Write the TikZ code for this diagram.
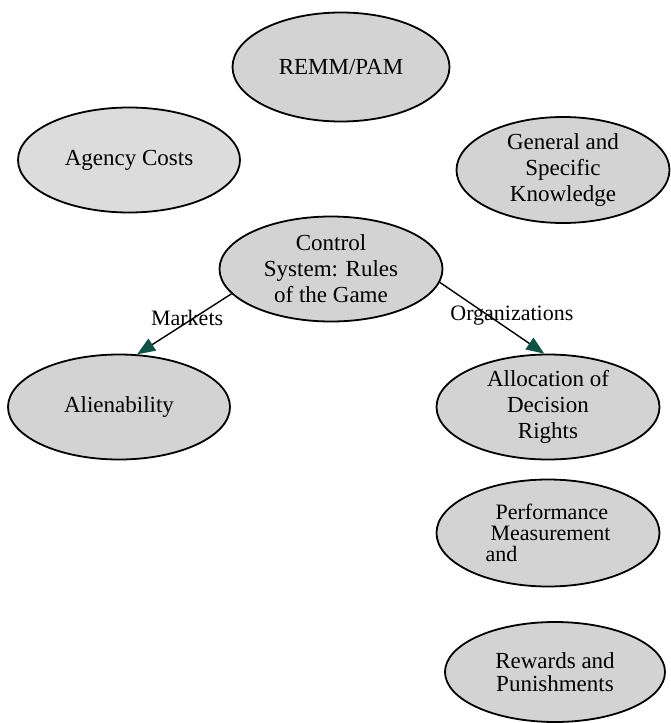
\documentclass[tikz,border=0pt]{standalone}
\usepackage{fontspec}
\setmainfont{Liberation Serif}
\usetikzlibrary{shapes.geometric,arrows.meta}
\definecolor{bubgray}{RGB}{211,211,211}
\definecolor{tipteal}{RGB}{18,82,70}
\begin{document}
\begin{tikzpicture}[x=1pt,y=-1pt,
    bub/.style={ellipse, draw, line width=1.8pt, fill=bubgray, inner sep=0pt,
        minimum width=222pt, minimum height=105pt, align=center,
        font=\fontsize{23}{26}\selectfont},
    lab/.style={font=\fontsize{22}{24}\selectfont, inner sep=0pt},
    conn/.style={line width=1.4pt, -{Triangle[length=18pt,width=14pt,color=tipteal]}}]
\useasboundingbox (0,0) rectangle (670,723);
% top row
\node[bub, minimum width=217pt, minimum height=109pt] (remm) at (341,67) {REMM/PAM};
\node[bub, fill=bubgray!80!white] (agency) at (129,160) {Agency Costs};
\node[bub, minimum width=213pt, minimum height=106pt] (know) at (563,170) {General and\\Specific\\Knowledge};
% centre
\node[bub, minimum width=223pt] (ctrl) at (331,269) {Control\\System: Rules\\of the Game};
% below
\node[bub] (alien) at (119,407) {Alienability};
\node[bub, minimum width=223pt] (alloc) at (548,407) {Allocation of\\Decision\\Rights};
\node[bub, minimum width=223pt, minimum height=107pt, align=left,
      font=\fontsize{22}{21}\selectfont] (perf) at (548,533) {\hspace{10pt}Performance\\\hspace{5pt}Measurement\\and};
\node[bub, minimum width=220pt, minimum height=100pt,
      font=\fontsize{23}{23}\selectfont] (reward) at (555,672) {Rewards and\\Punishments};

\draw[conn] (ctrl.194) -- (alien.71) node[lab, pos=.47, yshift=4pt]{Markets};
\draw[conn] (ctrl.353) -- (alloc.94) node[lab, pos=.69, yshift=16pt]{Organizations};
\end{tikzpicture}
\end{document}
